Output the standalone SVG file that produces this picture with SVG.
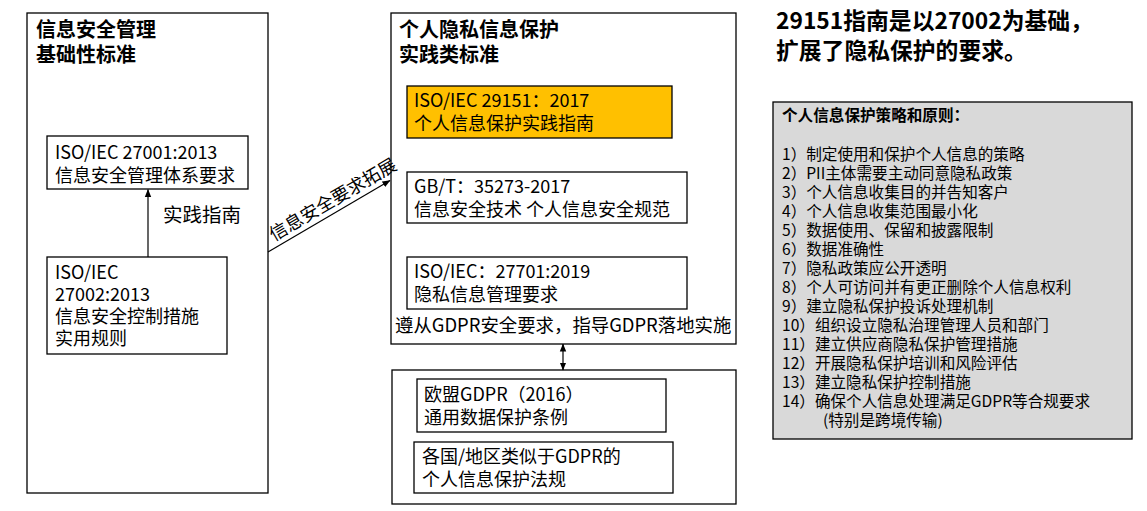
<svg xmlns="http://www.w3.org/2000/svg" width="1147" height="511" viewBox="0 0 1147 511">
<defs>
<marker id="ah" viewBox="0 0 8 8" refX="7.5" refY="4" markerWidth="8" markerHeight="8" markerUnits="userSpaceOnUse" orient="auto-start-reverse">
<path d="M0,0.8 L8,4 L0,7.2 Z" fill="#000"/>
</marker>
</defs>
<style>
text{font-family:"Noto Sans CJK SC","Noto Sans",sans-serif;fill:#000}
.box{fill:#fff;stroke:#000;stroke-width:1.3}
.title{font-size:20px;font-weight:bold}
.t{font-size:18px}
.li{font-size:15.6px}
.conn{stroke:#000;stroke-width:1.2;fill:none}
</style>
<rect width="1147" height="511" fill="#fff"/>

<g id="group-left">
<rect class="box" x="27" y="13" width="241" height="480"/>
<text class="title"><tspan x="36" y="37">信息安全管理</tspan><tspan x="36" y="62">基础性标准</tspan></text>
</g>
<g id="node-27001">
<rect class="box" x="47" y="136" width="201" height="53"/>
<text class="t"><tspan x="55" y="159">ISO/IEC 27001:2013</tspan><tspan x="55" y="182">信息安全管理体系要求</tspan></text>
</g>
<g id="node-27002">
<rect class="box" x="47" y="257" width="180" height="97"/>
<text class="t"><tspan x="55" y="279">ISO/IEC</tspan><tspan x="55" y="301">27002:2013</tspan><tspan x="55" y="323">信息安全控制措施</tspan><tspan x="55" y="345">实用规则</tspan></text>
</g>

<g id="group-middle">
<rect class="box" x="391" y="13" width="345" height="331"/>
<text class="title"><tspan x="399" y="37">个人隐私信息保护</tspan><tspan x="399" y="62">实践类标准</tspan></text>
<text x="395" y="332" style="font-size:18.4px">遵从GDPR安全要求，指导GDPR落地实施</text>
</g>
<g id="node-29151">
<rect x="407" y="86" width="265" height="52" fill="#FFC000" stroke="#000" stroke-width="1.3"/>
<text class="t"><tspan x="414" y="107">ISO/IEC 29151：2017</tspan><tspan x="414" y="130">个人信息保护实践指南</tspan></text>
</g>
<g id="node-35273">
<rect class="box" x="407" y="172" width="280" height="51"/>
<text class="t"><tspan x="414" y="193">GB/T：35273-2017</tspan><tspan x="414" y="216">信息安全技术 个人信息安全规范</tspan></text>
</g>
<g id="node-27701">
<rect class="box" x="407" y="257" width="280" height="52"/>
<text class="t"><tspan x="414" y="278">ISO/IEC：27701:2019</tspan><tspan x="414" y="301">隐私信息管理要求</tspan></text>
</g>

<g id="group-bottom">
<rect class="box" x="392" y="370" width="344" height="134"/>
</g>
<g id="node-gdpr">
<rect class="box" x="417" y="379" width="249" height="53"/>
<text class="t"><tspan x="424" y="401">欧盟GDPR（2016）</tspan><tspan x="424" y="424">通用数据保护条例</tspan></text>
</g>
<g id="node-countries">
<rect class="box" x="414" y="442" width="259" height="51"/>
<text class="t"><tspan x="422" y="463">各国/地区类似于GDPR的</tspan><tspan x="422" y="486">个人信息保护法规</tspan></text>
</g>

<g id="heading">
<text style="font-size:22.8px;font-weight:bold"><tspan x="776" y="29">29151指南是以27002为基础，</tspan><tspan x="776" y="59">扩展了隐私保护的要求。</tspan></text>
</g>

<g id="node-principles">
<rect x="773" y="102" width="359" height="337" fill="#D9D9D9" stroke="#000" stroke-width="1.3"/>
<text class="li" x="782" y="121" font-weight="bold">个人信息保护策略和原则：</text>
<text class="li"><tspan x="782" y="160">1）制定使用和保护个人信息的策略</tspan><tspan x="782" y="179">2）PII主体需要主动同意隐私政策</tspan><tspan x="782" y="198">3）个人信息收集目的并告知客户</tspan><tspan x="782" y="217">4）个人信息收集范围最小化</tspan><tspan x="782" y="236">5）数据使用、保留和披露限制</tspan><tspan x="782" y="255">6）数据准确性</tspan><tspan x="782" y="274">7）隐私政策应公开透明</tspan><tspan x="782" y="293">8）个人可访问并有更正删除个人信息权利</tspan><tspan x="782" y="312">9）建立隐私保护投诉处理机制</tspan><tspan x="782" y="331">10）组织设立隐私治理管理人员和部门</tspan><tspan x="782" y="350">11）建立供应商隐私保护管理措施</tspan><tspan x="782" y="369">12）开展隐私保护培训和风险评估</tspan><tspan x="782" y="388">13）建立隐私保护控制措施</tspan><tspan x="782" y="407">14）确保个人信息处理满足GDPR等合规要求</tspan><tspan x="823" y="426">(特别是跨境传输)</tspan></text>
</g>

<g id="connectors">
<line class="conn" x1="148" y1="257" x2="148" y2="189.5" marker-end="url(#ah)"/>
<text x="163" y="222" style="font-size:19.5px">实践指南</text>
<line class="conn" x1="268" y1="252" x2="390" y2="180.5" marker-end="url(#ah)"/>
<text class="t" x="0" y="0" text-anchor="middle" transform="translate(336,205) rotate(-30.4)">信息安全要求拓展</text>
<line class="conn" x1="563" y1="344" x2="563" y2="370" marker-start="url(#ah)" marker-end="url(#ah)"/>
</g>
</svg>
